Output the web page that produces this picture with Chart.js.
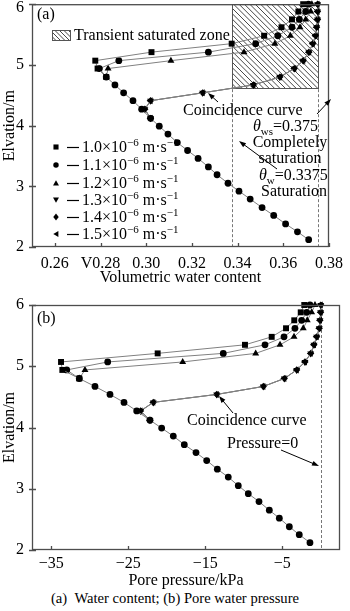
<!DOCTYPE html>
<html>
<head>
<meta charset="utf-8">
<script src="https://cdn.jsdelivr.net/npm/chart.js@4.4.0/dist/chart.umd.min.js"></script>
<style>
  html, body { margin: 0; padding: 0; background: #fff; }
  #wrap { position: relative; width: 350px; height: 611px; overflow: hidden; }
  #chartA { position: absolute; left: 0; top: 0; }
  #chartB { position: absolute; left: 0; top: 290px; }
  #caption { position: absolute; left: 0; top: 590px; width: 350px; text-align: center;
             font: 14.6px "Liberation Serif", "Times New Roman", serif; line-height: 16px; color: #000; }
</style>
</head>
<body>
<div id="wrap">
  <canvas id="chartA" width="350" height="290"></canvas>
  <canvas id="chartB" width="350" height="300"></canvas>
  <div id="caption">(a)&nbsp;&nbsp;Water content; (b) Pore water pressure</div>
</div>
<script>
// elevation of the nodes (m), shared by every series
const elevation = [2.12, 2.25, 2.38, 2.52, 2.65, 2.79, 2.92, 3.05, 3.19, 3.32,
                   3.46, 3.59, 3.72, 3.86, 3.99, 4.12, 4.27, 4.41, 4.54, 4.67,
                   4.80, 4.94, 5.07, 5.21, 5.35, 5.48, 5.62, 5.75, 5.88, 6.00];

const gap = n => Array(n).fill(null);

// (a) volumetric water content
const theta10 = gap(20).concat([0.2825, 0.2787, 0.2777, 0.3023, 0.3374, 0.3516, 0.3592, 0.3638, 0.3666, 0.3687]);
const theta11 = [0.3711, 0.3662, 0.3610, 0.3558, 0.3507, 0.3455, 0.3406, 0.3358, 0.3310, 0.3272,
                 0.3227, 0.3181, 0.3136, 0.3095, 0.3057, 0.3019, 0.2980, 0.2942, 0.2901, 0.2863,
                 0.2825, 0.2795, 0.2880, 0.3272, 0.3479, 0.3576, 0.3638, 0.3670, 0.3698, 0.3710];
const theta12 = gap(20).concat([0.2825, 0.2833, 0.3108, 0.3428, 0.3563, 0.3631, 0.3673, 0.3698, 0.3720, 0.3725]);
// 1.3, 1.4 and 1.5 fall on the same "coincidence curve"
const thetaCoinc = gap(15).concat([0.3019, 0.2994, 0.3019, 0.3247, 0.3469, 0.3585, 0.3648, 0.3687,
                                   0.3712, 0.3729, 0.3741, 0.3746, 0.3750, 0.3750, 0.3750]);

// (b) pore water pressure, kPa
const pore10 = gap(20).concat([-31.36, -33.56, -33.73, -21.18, -9.84, -6.37, -4.51, -3.44, -2.60, -2.14]);
const pore11 = [-1.40, -2.79, -4.08, -5.38, -6.68, -8.02, -9.41, -10.71, -12.01, -13.43,
                -14.81, -16.20, -17.72, -19.15, -20.66, -22.18, -23.90, -25.55, -27.37, -29.32,
                -31.36, -32.99, -27.67, -12.66, -7.24, -4.77, -3.35, -2.48, -1.82, -1.40];
const pore12 = gap(20).concat([-31.36, -30.62, -17.93, -8.45, -5.29, -3.47, -2.27, -1.75, -1.18, -0.75]);
const poreCoinc = gap(15).concat([-22.18, -23.40, -21.75, -13.51, -7.46, -4.73, -3.12, -2.05,
                                  -1.30, -0.88, -0.53, -0.19, -0.10, -0.01, 0]);

const seriesLabels = ['1.0', '1.1', '1.2', '1.3', '1.4', '1.5'];

const thetaTicks = [0.26, 0.28, 0.30, 0.32, 0.34, 0.36, 0.38];
const thetaTickLabels = ['0.26', 'V0.28', '0.30', '0.32', '0.34', '0.36', '0.38'];
const poreTicks = [-35, -25, -15, -5];
const poreTickLabels = ['\u221235', '\u221225', '\u221215', '\u22125'];
const elevTicks = [2, 3, 4, 5, 6];

const thetaSat = 0.3375;     // θw
const thetaWs = 0.375;       // θws
const zoneTheta = [0.3375, 0.375];
const zoneElev = [4.6, 6];

const FONT = '"Liberation Serif", "Times New Roman", serif';
const FS = 16;
Chart.defaults.font.family = FONT;
Chart.defaults.font.size = FS;
Chart.defaults.color = '#000';

const markers = [
  { style: 'rect', r: 4.2, rot: 0 },
  { style: 'circle', r: 3.4, rot: 0 },
  { style: 'triangle', r: 4, rot: 0 },
  { style: 'triangle', r: 4, rot: 180 },
  { style: 'rectRot', r: 3.6, rot: 0 },
  { style: 'triangle', r: 4, rot: -90 }
];

function toPoints(values) {
  const pts = [];
  values.forEach((v, i) => { if (v !== null) pts.push({ x: v, y: elevation[i] }); });
  return pts;
}

function buildDatasets(seriesValues) {
  return seriesLabels.map((lab, i) => ({
    label: lab,
    data: toPoints(seriesValues[i]),
    showLine: true,
    borderColor: '#808080',
    borderWidth: 1,
    pointStyle: markers[i].style,
    pointRadius: markers[i].r,
    pointRotation: markers[i].rot,
    pointBackgroundColor: '#000',
    pointBorderColor: '#000',
    pointBorderWidth: 0,
    clip: false
  }));
}

// ---- drawing helpers
function drawRich(ctx, parts, x, y, size, align) {
  const fontOf = k => (k === 'i' ? 'italic ' : '') +
    ((k === 'sup' || k === 'sub') ? Math.round(size * 0.68) : size) + 'px ' + FONT;
  let w = 0;
  parts.forEach(p => { ctx.font = fontOf(p[1]); w += ctx.measureText(p[0]).width; });
  let cx = align === 'center' ? x - w / 2 : (align === 'right' ? x - w : x);
  ctx.textAlign = 'left';
  ctx.textBaseline = 'alphabetic';
  ctx.fillStyle = '#000';
  parts.forEach(p => {
    ctx.font = fontOf(p[1]);
    const dy = p[1] === 'sup' ? -size * 0.38 : (p[1] === 'sub' ? size * 0.25 : 0);
    ctx.fillText(p[0], cx, y + dy);
    cx += ctx.measureText(p[0]).width;
  });
}

function arrow(ctx, x1, y1, x2, y2) {
  const a = Math.atan2(y2 - y1, x2 - x1);
  ctx.save();
  ctx.strokeStyle = '#000';
  ctx.fillStyle = '#000';
  ctx.lineWidth = 1;
  ctx.beginPath();
  ctx.moveTo(x1, y1);
  ctx.lineTo(x2 - 4 * Math.cos(a), y2 - 4 * Math.sin(a));
  ctx.stroke();
  ctx.beginPath();
  ctx.moveTo(x2, y2);
  ctx.lineTo(x2 - 7 * Math.cos(a) + 2.5 * Math.sin(a), y2 - 7 * Math.sin(a) - 2.5 * Math.cos(a));
  ctx.lineTo(x2 - 7 * Math.cos(a) - 2.5 * Math.sin(a), y2 - 7 * Math.sin(a) + 2.5 * Math.cos(a));
  ctx.closePath();
  ctx.fill();
  ctx.restore();
}

function hatch(ctx, x, y, w, h, step) {
  ctx.save();
  ctx.beginPath();
  ctx.rect(x, y, w, h);
  ctx.clip();
  ctx.strokeStyle = '#333';
  ctx.lineWidth = 0.9;
  ctx.beginPath();
  for (let k = x - h; k < x + w; k += step) {
    ctx.moveTo(k, y);
    ctx.lineTo(k + h, y + h);
  }
  ctx.stroke();
  ctx.restore();
  ctx.save();
  ctx.strokeStyle = '#555';
  ctx.lineWidth = 1;
  ctx.strokeRect(x + 0.5, y + 0.5, w - 1, h - 1);
  ctx.restore();
}

function dashed(ctx, x, y1, y2) {
  ctx.save();
  ctx.strokeStyle = '#777';
  ctx.lineWidth = 1;
  ctx.setLineDash([3, 2]);
  ctx.beginPath();
  ctx.moveTo(Math.round(x) + 0.5, y1);
  ctx.lineTo(Math.round(x) + 0.5, y2);
  ctx.stroke();
  ctx.restore();
}

function drawMarker(ctx, m, x, y, r) {
  ctx.save();
  ctx.translate(x, y);
  ctx.rotate(m.rot * Math.PI / 180);
  ctx.fillStyle = '#000';
  ctx.beginPath();
  if (m.style === 'rect') {
    ctx.rect(-r * 0.75, -r * 0.75, r * 1.5, r * 1.5);
  } else if (m.style === 'circle') {
    ctx.arc(0, 0, r * 0.8, 0, Math.PI * 2);
  } else if (m.style === 'rectRot') {
    ctx.moveTo(0, -r); ctx.lineTo(r * 0.8, 0); ctx.lineTo(0, r); ctx.lineTo(-r * 0.8, 0);
  } else {
    for (let k = 0; k < 3; k++) {
      const a = -Math.PI / 2 + k * 2 * Math.PI / 3;
      ctx[k ? 'lineTo' : 'moveTo'](Math.cos(a) * r, Math.sin(a) * r + r * 0.2);
    }
  }
  ctx.closePath();
  ctx.fill();
  ctx.restore();
}

// frame, tick marks and y tick labels
function drawFrame(chart, minLabelY) {
  const ctx = chart.ctx;
  const a = chart.chartArea;
  const xs = chart.scales.x, ys = chart.scales.y;
  ctx.save();
  ctx.strokeStyle = '#4d4d4d';
  ctx.lineWidth = 1.3;
  ctx.strokeRect(a.left + 0.5, a.top + 0.5, a.right - a.left - 1, a.bottom - a.top - 1);
  ctx.beginPath();
  xs.ticks.forEach(t => {
    const px = Math.round(xs.getPixelForValue(t.value)) + 0.5;
    ctx.moveTo(px, a.bottom);
    ctx.lineTo(px, a.bottom - 4);
  });
  ys.ticks.forEach(t => {
    const py = Math.round(ys.getPixelForValue(t.value)) + 0.5;
    ctx.moveTo(a.left - 3, py);
    ctx.lineTo(a.left + 4, py);
  });
  ctx.stroke();
  ctx.fillStyle = '#000';
  ctx.font = FS + 'px ' + FONT;
  ctx.textAlign = 'right';
  ctx.textBaseline = 'middle';
  ys.ticks.forEach(t => {
    const py = Math.max(ys.getPixelForValue(t.value), minLabelY);
    ctx.fillText(String(t.value), a.left - 8, py);
  });
  ctx.restore();
}

function baseOptions(xMin, xMax, xTicks, xLabels, xTitle, padTop, xHeight, tickPad, titlePad) {
  return {
    responsive: false,
    animation: false,
    events: [],
    layout: { padding: { top: padTop, right: 10, left: 0, bottom: 0 } },
    plugins: { legend: { display: false }, tooltip: { enabled: false } },
    scales: {
      x: {
        type: 'linear',
        min: xMin,
        max: xMax,
        afterBuildTicks: s => { s.ticks = xTicks.map(v => ({ value: v })); },
        afterFit: s => { s.height = xHeight; },
        ticks: {
          autoSkip: false,
          maxRotation: 0,
          padding: tickPad,
          callback: (v, i) => xLabels[i]
        },
        grid: { display: false, drawTicks: false },
        border: { display: false },
        title: { display: true, text: xTitle, padding: { top: 0, bottom: titlePad } }
      },
      y: {
        type: 'linear',
        min: 2,
        max: 6,
        afterBuildTicks: s => { s.ticks = elevTicks.map(v => ({ value: v })); },
        afterFit: s => { s.width = 32; },
        ticks: { display: false },
        grid: { display: false, drawTicks: false },
        border: { display: false },
        title: { display: true, text: 'Elvation/m', padding: 0 }
      }
    }
  };
}

// ---- panel (a)
const panelA = {
  id: 'panelA',
  beforeDatasetsDraw(chart) {
    const ctx = chart.ctx;
    const xs = chart.scales.x, ys = chart.scales.y;
    const xl = xs.getPixelForValue(zoneTheta[0]), xr = xs.getPixelForValue(zoneTheta[1]);
    const yt = ys.getPixelForValue(zoneElev[1]), yb = ys.getPixelForValue(zoneElev[0]);
    hatch(ctx, Math.round(xl), Math.round(yt), Math.round(xr - xl) + 1, Math.round(yb - yt), 5.4);
    dashed(ctx, xs.getPixelForValue(thetaSat), yb, chart.chartArea.bottom);
    dashed(ctx, xs.getPixelForValue(thetaWs), yb, chart.chartArea.bottom);
  },
  afterDatasetsDraw(chart) {
    const ctx = chart.ctx;
    drawFrame(chart, 8);
    drawRich(ctx, [['(a)', '']], 37, 19, FS, 'left');
    // hatched zone key
    hatch(ctx, 52, 30, 19, 11, 4.5);
    drawRich(ctx, [['Transient saturated zone', '']], 74, 40, FS, 'left');
    drawRich(ctx, [['Coincidence curve', '']], 183, 115, FS, 'left');
    arrow(ctx, 218, 102, 208, 93);
    drawRich(ctx, [['\u03b8', 'i'], ['ws', 'sub'], ['=0.375', '']], 253, 131, FS, 'left');
    arrow(ctx, 317, 114, 331, 99);
    drawRich(ctx, [['Completely', '']], 290, 147, FS, 'center');
    drawRich(ctx, [['saturation', '']], 290, 163, FS, 'center');
    drawRich(ctx, [['\u03b8', 'i'], ['w', 'sub'], ['=0.3375', '']], 259, 180, FS, 'left');
    drawRich(ctx, [['Saturation', '']], 294, 196, FS, 'center');
    arrow(ctx, 277, 169, 239, 141);
    // series key
    const rows = [147, 165, 183, 200, 217, 234];
    seriesLabels.forEach((lab, i) => {
      const y = rows[i];
      drawMarker(ctx, markers[i], 56, y, 3.4);
      ctx.save();
      ctx.strokeStyle = '#000';
      ctx.lineWidth = 1.2;
      ctx.beginPath();
      ctx.moveTo(67, y + 0.5);
      ctx.lineTo(79, y + 0.5);
      ctx.stroke();
      ctx.restore();
      drawRich(ctx, [[lab + '\u00d710', ''], ['\u22126', 'sup'], [' m\u00b7s', ''], ['\u22121', 'sup']],
               82, y + 5, FS, 'left');
    });
  }
};

new Chart(document.getElementById('chartA'), {
  type: 'scatter',
  data: { datasets: buildDatasets([theta10, theta11, theta12, thetaCoinc, thetaCoinc, thetaCoinc]) },
  options: baseOptions(0.25, 0.38, thetaTicks, thetaTickLabels, 'Volumetric water content', 3, 43, 7, 3),
  plugins: [panelA]
});

// ---- panel (b)
const panelB = {
  id: 'panelB',
  beforeDatasetsDraw(chart) {
    const xs = chart.scales.x;
    dashed(chart.ctx, xs.getPixelForValue(0), chart.chartArea.top, chart.chartArea.bottom);
  },
  afterDatasetsDraw(chart) {
    const ctx = chart.ctx;
    drawFrame(chart, 0);
    drawRich(ctx, [['(b)', '']], 37, 33, FS, 'left');
    drawRich(ctx, [['Coincidence curve', '']], 187, 135, FS, 'left');
    arrow(ctx, 233, 123, 219, 106);
    drawRich(ctx, [['Pressure=0', '']], 227, 158, FS, 'left');
    arrow(ctx, 281, 160, 319, 176);
  }
};

new Chart(document.getElementById('chartB'), {
  type: 'scatter',
  data: { datasets: buildDatasets([pore10, pore11, pore12, poreCoinc, poreCoinc, poreCoinc]) },
  options: baseOptions(-37.5, 2.5, poreTicks, poreTickLabels, 'Pore pressure/kPa', 15, 40, 4, 0),
  plugins: [panelB]
});
</script>
</body>
</html>
